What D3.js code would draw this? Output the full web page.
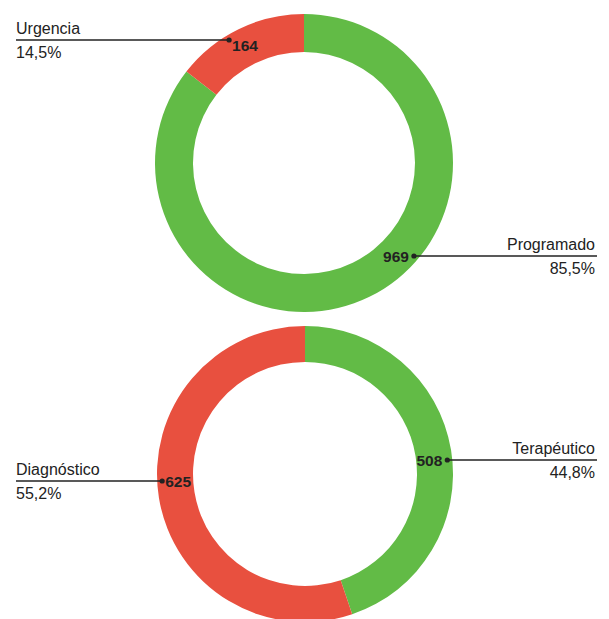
<!DOCTYPE html>
<html>
<head>
<meta charset="utf-8">
<script src="https://cdn.jsdelivr.net/npm/d3@7"></script>
<style>
  html, body { margin: 0; padding: 0; background: #fff; }
  svg { display: block; }
  text { font-family: "Liberation Sans", Arial, Helvetica, sans-serif; fill: #222; }
</style>
</head>
<body>
<svg id="chart" width="609" height="619"></svg>
<script>
// Top ring: type of admission
const admissionLabels = ["Programado", "Urgencia"];
const admissionValues = [969, 164];
const admissionPercents = ["85,5%", "14,5%"];

// Bottom ring: purpose of the procedure
const purposeLabels = ["Terapéutico", "Diagnóstico"];
const purposeValues = [508, 625];
const purposePercents = ["44,8%", "55,2%"];

const colors = { Programado: "#62bb46", Urgencia: "#e8503f", "Terapéutico": "#62bb46", "Diagnóstico": "#e8503f" };

const svg = d3.select("#chart");

// Layout for each ring and its two callouts (side, y of the leader line)
const rings = [
  {
    labels: admissionLabels, values: admissionValues, percents: admissionPercents,
    cx: 304, cy: 163, outer: 149, inner: 111,
    callouts: { Programado: { side: "right", y: 256 }, Urgencia: { side: "left", y: 40 } }
  },
  {
    labels: purposeLabels, values: purposeValues, percents: purposePercents,
    cx: 305, cy: 474, outer: 148, inner: 112,
    callouts: { "Terapéutico": { side: "right", y: 460 }, "Diagnóstico": { side: "left", y: 481 } }
  }
];

rings.forEach(ring => {
  const data = ring.labels.map((l, i) => ({ label: l, value: ring.values[i], pct: ring.percents[i] }));
  const pie = d3.pie().sort(null).value(d => d.value);
  const arc = d3.arc().innerRadius(ring.inner).outerRadius(ring.outer);
  const g = svg.append("g").attr("transform", `translate(${ring.cx},${ring.cy})`);

  g.selectAll("path.slice")
    .data(pie(data))
    .join("path")
    .attr("class", "slice")
    .attr("d", arc)
    .attr("fill", d => colors[d.data.label]);

  // Callouts: dot on the ring near its outer edge, leader line to the page edge
  const dotR = ring.outer - 5;
  data.forEach(d => {
    const c = ring.callouts[d.label];
    const dy = c.y - ring.cy;
    const dx = Math.sqrt(Math.max(0, dotR * dotR - dy * dy)) * (c.side === "right" ? 1 : -1);
    const px = ring.cx + dx, py = c.y;
    const edgeX = c.side === "right" ? 597 : 16;

    svg.append("line")
      .attr("x1", px).attr("y1", py).attr("x2", edgeX).attr("y2", py)
      .attr("stroke", "#222").attr("stroke-width", 1.4);
    svg.append("circle").attr("cx", px).attr("cy", py).attr("r", 2.6).attr("fill", "#222");

    // value next to the dot, inside the ring
    svg.append("text")
      .attr("x", c.side === "right" ? px - 5 : px + 3)
      .attr("y", py + 6 + (d.label === "Urgencia" ? 5 : 0))
      .attr("text-anchor", c.side === "right" ? "end" : "start")
      .attr("font-size", 15.5).attr("font-weight", "bold")
      .text(d.value);

    // category name above the line, share below it
    const tx = c.side === "right" ? 595 : 16;
    const anchor = c.side === "right" ? "end" : "start";
    svg.append("text").attr("x", tx).attr("y", py - 6).attr("text-anchor", anchor)
      .attr("font-size", 16).text(d.label);
    svg.append("text").attr("x", tx).attr("y", py + 18).attr("text-anchor", anchor)
      .attr("font-size", 16).text(d.pct);
  });
});
</script>
</body>
</html>
